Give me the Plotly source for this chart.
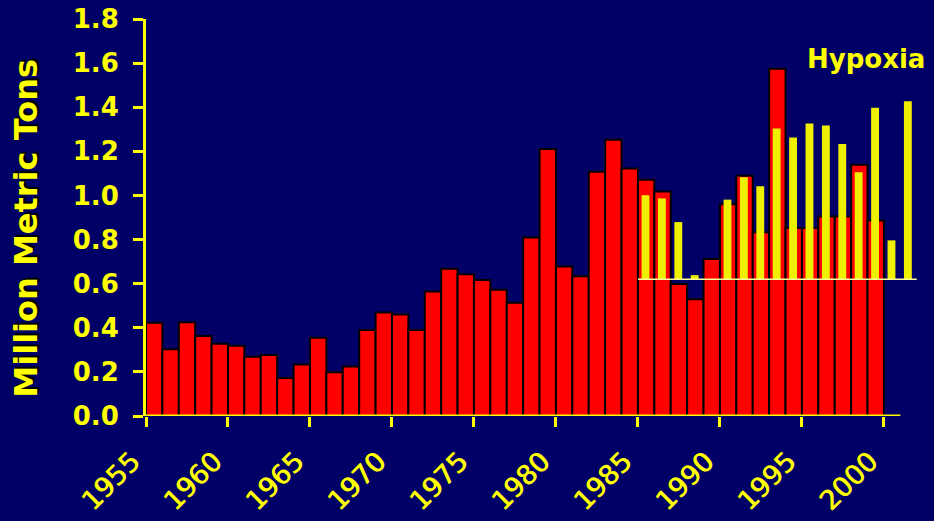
import plotly.graph_objects as go

# Annual landings (million metric tons), 1955-1999
years = list(range(1955, 2000))
landings = [
    0.423, 0.303, 0.425, 0.363, 0.328, 0.319, 0.269, 0.277, 0.172, 0.233,
    0.355, 0.198, 0.224, 0.390, 0.469, 0.460, 0.390, 0.564, 0.668, 0.643,
    0.617, 0.572, 0.513, 0.809, 1.211, 0.678, 0.634, 1.107, 1.252, 1.122,
    1.071, 1.018, 0.599, 0.529, 0.712, 0.960, 1.089, 0.833, 1.574, 0.852,
    0.852, 0.904, 0.904, 1.139, 0.886,
]

# Bottom-water hypoxia extent (km^2), 1985-2001; no survey in 1989
hyp_years = list(range(1985, 2002))
hyp_area = [
    9770, 9400, 6650, 480, None, 9260, 11870, 10830, 17520, 16500,
    18100, 17870, 15740, 12450, 19950, 4525, 20700,
]

y_ticks = [round(0.2 * i, 1) for i in range(10)]
x_ticks = list(range(1955, 2001, 5))

NAVY = "#000066"
YELLOW = "#FFFF00"
HYP_YELLOW = "#EFEF00"
FONT = "DejaVu Sans"

# hypoxia bars sit on their own hidden axis, zero drawn at this landings level
HYP_BASE = 0.62
KM2_PER_UNIT = 25650
y2_range = [(0 - HYP_BASE) * KM2_PER_UNIT, (1.8 - HYP_BASE) * KM2_PER_UNIT]

fig = go.Figure()

fig.add_trace(go.Bar(
    x=[y + 0.5 for y in years], y=landings, width=1.0,
    marker=dict(color="#FF0000", line=dict(color="#000000", width=2)),
    name="Landings", yaxis="y",
))

hx = [y + 0.46 for y, v in zip(hyp_years, hyp_area) if v is not None]
hv = [v for v in hyp_area if v is not None]
fig.add_trace(go.Bar(
    x=hx, y=hv, width=0.48,
    marker=dict(color=HYP_YELLOW, line=dict(width=0)),
    name="Hypoxia", yaxis="y2",
))

# hypoxia zero line
fig.add_shape(type="line", xref="x", yref="y2", x0=1985, x1=2002, y0=0, y1=0,
              line=dict(color="#FFFF99", width=1.5), layer="above")
# x axis baseline
fig.add_shape(type="line", xref="x", yref="y", x0=1954.4, x1=2001, y0=0, y1=0,
              line=dict(color=YELLOW, width=3), layer="above")

fig.add_annotation(text="Hypoxia", xref="paper", yref="paper", x=0.930, y=0.899,
                   xanchor="center", yanchor="middle", showarrow=False,
                   font=dict(family=FONT, size=26, color=YELLOW, weight="bold"))
fig.add_annotation(text="Million Metric Tons", xref="paper", yref="paper",
                   x=-0.155, y=0.472, textangle=-90, showarrow=False,
                   xanchor="center", yanchor="middle",
                   font=dict(family=FONT, size=32, color=YELLOW, weight="bold",
                             shadow="2px 2px 1px #000000"))

fig.update_layout(
    width=934, height=521,
    margin=dict(l=146, r=14, t=19, b=105, pad=0, autoexpand=False),
    paper_bgcolor=NAVY, plot_bgcolor=NAVY,
    barmode="overlay", showlegend=False,
    font=dict(family=FONT, color=YELLOW, size=26, weight="bold"),
    xaxis=dict(
        range=[1955, 2002.2], tickmode="array", tickvals=x_ticks,
        ticktext=[str(t) for t in x_ticks], tickangle=-45,
        ticks="outside", ticklen=10, tickwidth=3, tickcolor=YELLOW,
        showline=False, showgrid=False, zeroline=False, automargin=False,
        ticklabelstandoff=8, ticklabelshift=-14,
        tickfont=dict(family=FONT, size=27, color=YELLOW, weight="normal",
                      shadow="0.8px 0px 0px #FFFF00"),
    ),
    yaxis=dict(
        range=[0, 1.8], tickmode="array", tickvals=y_ticks, tickformat=".1f",
        ticks="outside", ticklen=10, tickwidth=3, tickcolor=YELLOW,
        showline=True, linewidth=3, linecolor=YELLOW, automargin=False,
        showgrid=False, zeroline=False, ticklabelstandoff=9,
        tickfont=dict(family=FONT, size=26, color=YELLOW, weight="bold"),
    ),
    yaxis2=dict(
        range=y2_range, overlaying="y", side="right", visible=False,
        showgrid=False, zeroline=False,
    ),
)

fig.write_html("out.html")
